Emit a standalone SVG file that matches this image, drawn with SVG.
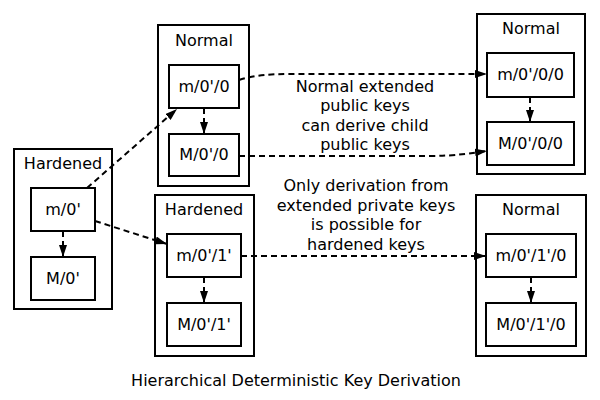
<svg xmlns="http://www.w3.org/2000/svg" width="600" height="400" viewBox="0 0 600 400">
<style>
text{font-family:"DejaVu Sans","Noto Sans",sans-serif;font-size:16px;fill:#000;text-anchor:middle}
.cl{fill:none;stroke:#000;stroke-width:2}
.nd{fill:#fff;stroke:#000;stroke-width:2}
.ed{fill:none;stroke:#000;stroke-width:2;stroke-dasharray:6,4;marker-end:url(#ah)}
</style>
<defs>
<marker id="ah" viewBox="0 0 12 8" refX="12" refY="4" markerWidth="12" markerHeight="8" markerUnits="userSpaceOnUse" orient="auto">
<path d="M0,0 L12,4 L0,8 z" fill="#000" stroke="none"/>
</marker>
</defs>
<rect width="600" height="400" fill="#fff"/>
<g id="cluster_left_hardened"><rect class="cl" x="14" y="149" width="98" height="160"/><text x="63" y="169">Hardened</text></g>
<g id="cluster_normal_1"><rect class="cl" x="158" y="25" width="91" height="161"/><text x="204" y="46">Normal</text></g>
<g id="cluster_hardened_2"><rect class="cl" x="155" y="195" width="99" height="161"/><text x="204" y="215">Hardened</text></g>
<g id="cluster_normal_right_top"><rect class="cl" x="477" y="14" width="108" height="160"/><text x="531" y="34">Normal</text></g>
<g id="cluster_normal_right_bottom"><rect class="cl" x="476" y="195" width="110" height="161"/><text x="531" y="215">Normal</text></g>
<g id="connectors">
<path class="ed" d="M87,188 L177,109"/>
<path class="ed" d="M95,221 L167,244"/>
<path class="ed" d="M63,231 L63,257"/>
<path class="ed" d="M204,108 L204,134"/>
<path class="ed" d="M204,277 L204,303"/>
<path class="ed" d="M530,97 L530,122"/>
<path class="ed" d="M531,277 L531,303"/>
<path class="ed" d="M239,80 C255,75 270,74 290,74 L487,74"/>
<path class="ed" d="M239,156 L430,156 C455,156 472,153 487,151"/>
<path class="ed" d="M241,256 L486,256"/>
</g>
<g id="node_m0h"><rect class="nd" x="31" y="188" width="64" height="43"/><text x="63" y="215">m/0'</text></g>
<g id="node_M0h"><rect class="nd" x="31" y="257" width="64" height="43"/><text x="63" y="284">M/0'</text></g>
<g id="node_m0h0"><rect class="nd" x="169" y="65" width="70" height="43"/><text x="204" y="92">m/0'/0</text></g>
<g id="node_M0h0"><rect class="nd" x="169" y="134" width="70" height="42"/><text x="204" y="160">M/0'/0</text></g>
<g id="node_m0h1h"><rect class="nd" x="167" y="234" width="74" height="43"/><text x="204" y="261">m/0'/1'</text></g>
<g id="node_M0h1h"><rect class="nd" x="167" y="303" width="74" height="43"/><text x="204" y="330">M/0'/1'</text></g>
<g id="node_m0h00"><rect class="nd" x="487" y="53" width="87" height="44"/><text x="530.5" y="80">m/0'/0/0</text></g>
<g id="node_M0h00"><rect class="nd" x="487" y="122" width="87" height="43"/><text x="530.5" y="149">M/0'/0/0</text></g>
<g id="node_m0h1h0"><rect class="nd" x="486" y="234" width="90" height="43"/><text x="531" y="261">m/0'/1'/0</text></g>
<g id="node_M0h1h0"><rect class="nd" x="486" y="303" width="90" height="43"/><text x="531" y="330">M/0'/1'/0</text></g>
<g id="label_normal_edges">
<text x="365" y="91.5">Normal extended</text>
<text x="365" y="111">public keys</text>
<text x="365" y="130.5">can derive child</text>
<text x="365" y="150">public keys</text>
</g>
<g id="label_hardened_edges">
<text x="366" y="191">Only derivation from</text>
<text x="366" y="210.5">extended private keys</text>
<text x="366" y="230">is possible for</text>
<text x="366" y="249.5">hardened keys</text>
</g>
<text x="296" y="386">Hierarchical Deterministic Key Derivation</text>
</svg>
